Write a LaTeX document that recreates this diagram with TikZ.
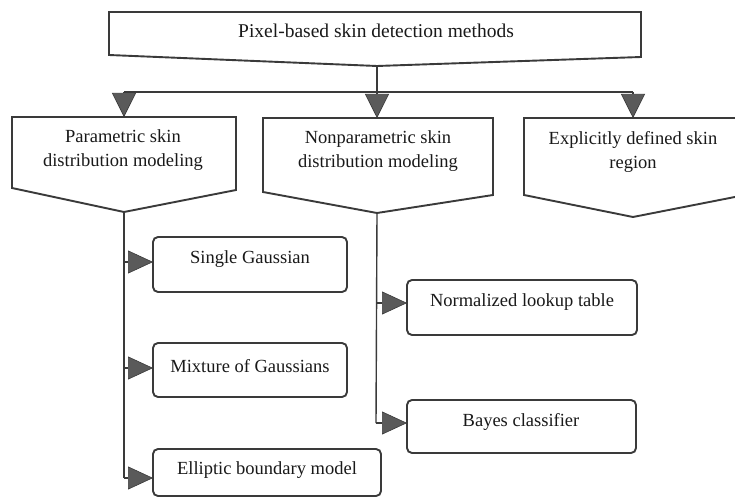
\documentclass[tikz,border=0pt]{standalone}
\usepackage{fontspec}
\setmainfont{Liberation Serif}
\usetikzlibrary{arrows.meta}
\definecolor{linegray}{HTML}{3A3A3A}
\definecolor{tipgray}{HTML}{5A5A5A}
\tikzset{
  shapeline/.style={draw=linegray, line width=1.9pt, line join=miter, fill=white},
  leafbox/.style={draw=linegray, line width=1.9pt, rounded corners=5pt, fill=white},
  label/.style={font=\fontsize{18.5}{24}\selectfont, align=center, inner sep=0pt, text=black!90},
  conn/.style={draw=linegray, line width=1.4pt},
  downarrow/.style={conn, -{Triangle[length=24pt,width=24pt,fill=tipgray,color=linegray,line width=0.6pt]}},
  sidearrow/.style={conn, -{Triangle[length=25pt,width=23pt,fill=tipgray,color=linegray,line width=0.6pt]}}
}
\begin{document}
\begin{tikzpicture}[x=1pt,y=-1pt]
\useasboundingbox (0,0) rectangle (735,497);
\clip (0,0) rectangle (735,497);
\fill[white] (0,0) rectangle (735,497);

% top shape
\draw[shapeline] (109,12) -- (641,12) -- (641,57) -- (377,66) -- (109,55) -- cycle;
\node[label, font=\fontsize{19.5}{24}\selectfont] (top) at (376,31) {Pixel-based skin detection methods};
\coordinate (topP) at (377,66);

% second level shapes
\draw[shapeline] (12,117) -- (236,117) -- (236,190) -- (124,212) -- (12,188) -- cycle;
\node[label] (param) at (123,150) {Parametric skin\\distribution modeling};
\coordinate (paramT) at (124,117);
\coordinate (paramP) at (124,212);

\draw[shapeline] (263,118) -- (493,118) -- (493,195) -- (377,213) -- (263,192) -- cycle;
\node[label] (nonparam) at (378,151) {Nonparametric skin\\distribution modeling};
\coordinate (nonparamT) at (377,118);
\coordinate (nonparamP) at (377,213);

\draw[shapeline] (524,118) -- (745,118) -- (745,195) -- (633,217) -- (524,195) -- cycle;
\node[label] (explicit) at (633,152) {Explicitly defined skin\\region};
\coordinate (explicitT) at (633,118);

% leaf boxes
\draw[leafbox] (153,237) rectangle (347,292);
\node[label] (single) at (250,259) {Single Gaussian};
\draw[leafbox] (153,343) rectangle (347,397);
\node[label] (mixture) at (250,366) {Mixture of Gaussians};
\draw[leafbox] (153,449) rectangle (381,496);
\node[label] (elliptic) at (267,470) {Elliptic boundary model};
\draw[leafbox] (407,280) rectangle (637,335);
\node[label] (lookup) at (522,302) {Normalized lookup table};
\draw[leafbox] (407,400) rectangle (636,453);
\node[label] (bayes) at (521,422) {Bayes classifier};

\coordinate (singleW) at (153,262);
\coordinate (mixtureW) at (153,368);
\coordinate (ellipticW) at (153,478);
\coordinate (lookupW) at (407,303);
\coordinate (bayesW) at (407,423);

% connectors from top
\coordinate (j0) at (377,92);
\coordinate (j1) at (124,92);
\coordinate (j3) at (633,92);
\draw[conn] (topP) -- (j0);
\draw[conn] (j1) -- (j3);
\draw[downarrow] (j1) -- (paramT);
\draw[downarrow] (j0) -- (nonparamT);
\draw[downarrow] (j3) -- (explicitT);

% parametric branch
\coordinate (pb1) at (124,262);
\coordinate (pb2) at (124,368);
\coordinate (pb3) at (124,478);
\draw[conn] (paramP) -- (pb3);
\draw[sidearrow] (pb1) -- (singleW);
\draw[sidearrow] (pb2) -- (mixtureW);
\draw[sidearrow] (pb3) -- (ellipticW);

% nonparametric branch
\coordinate (nb1) at (376,303);
\coordinate (nb2) at (376,423);
\draw[conn] (nonparamP) -- (nb2);
\draw[sidearrow] (nb1) -- (lookupW);
\draw[sidearrow] (nb2) -- (bayesW);
\end{tikzpicture}
\end{document}
